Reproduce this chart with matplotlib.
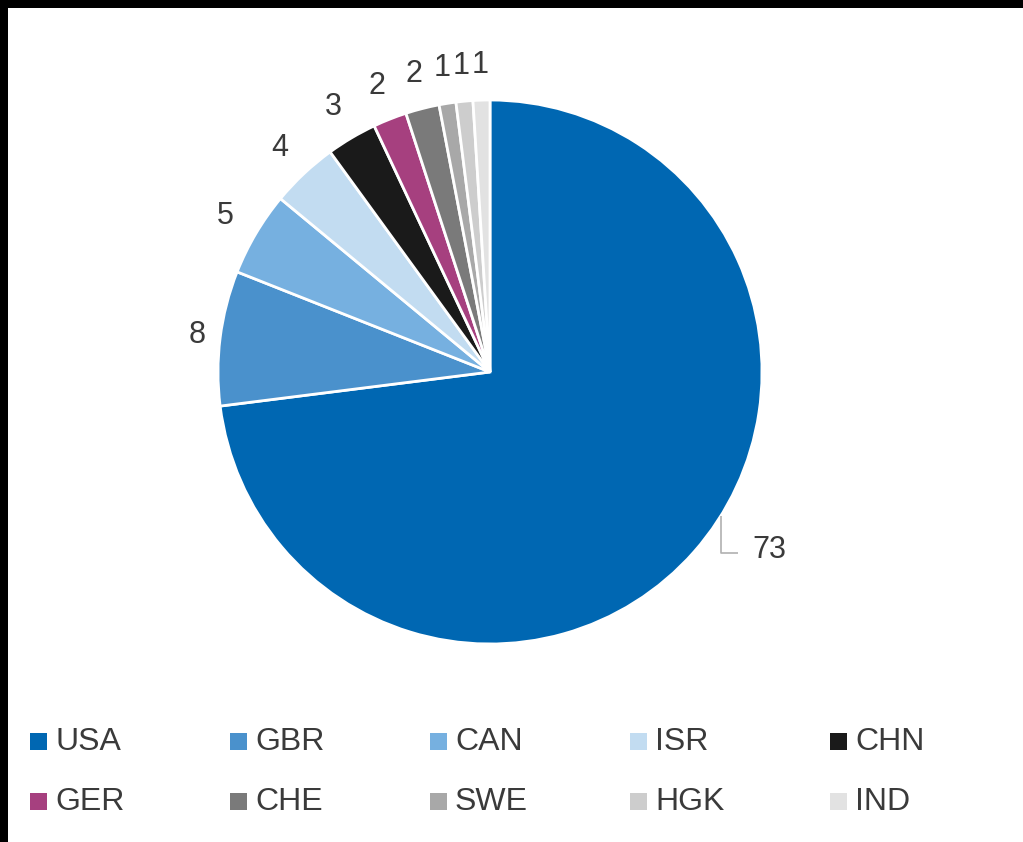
import matplotlib
matplotlib.use("Agg")
import matplotlib.pyplot as plt
from matplotlib.patches import Rectangle
import numpy as np

countries = ["USA", "GBR", "CAN", "ISR", "CHN", "GER", "CHE", "SWE", "HGK", "IND"]
values = [73, 8, 5, 4, 3, 2, 2, 1, 1, 1]
colors = ["#0067B2", "#4A91CC", "#76B0E0", "#C2DCF1", "#1A1A1A",
          "#A6407F", "#7A7A7A", "#A8A8A8", "#CDCDCD", "#E2E2E2"]

plt.rcParams['font.family'] = ['Liberation Sans', 'DejaVu Sans']
W, H = 1023, 842
fig = plt.figure(figsize=(W / 100, H / 100), dpi=100)
fig.patch.set_facecolor("black")
bg = Rectangle((8 / W, 0), 1 - 8 / W, 1 - 8 / H, transform=fig.transFigure,
               facecolor="white", edgecolor="none", zorder=-5)
fig.patches.append(bg)

ax = fig.add_axes([0, 0, 1, 1])
ax.patch.set_alpha(0)
cx, cy, R = 490, 372, 272
labels = [""] + [str(v) for v in values[1:]]
wedges, texts = ax.pie(values, colors=colors, startangle=90, counterclock=False,
                       labels=labels, labeldistance=1.13,
                       wedgeprops=dict(edgecolor="white", linewidth=2),
                       textprops=dict(fontsize=22, color="#3a3a3a"))
for t in texts:
    t.set_ha("center")
    t.set_va("center")
# GBR label sits a little closer to the pie
px, py = texts[1].get_position()
texts[1].set_position((px * 1.085 / 1.13, py * 1.085 / 1.13))

ax.set_xlim(-cx / R, (W - cx) / R)
ax.set_ylim(-(H - cy) / R, cy / R)
ax.set_aspect("auto")
ax.axis("off")

# leader line for USA
ang = np.deg2rad(-32)
x0, y0 = np.cos(ang), np.sin(ang)
y1 = -(553 - cy) / R
x2 = (738 - cx) / R
ax.plot([x0, x0, x2], [y0, y1, y1], color="#B0B0B0", lw=1.2, solid_capstyle="butt")
ax.text((752 - cx) / R, y1 + 0.01, str(values[0]), fontsize=22, color="#3a3a3a",
        ha="left", va="center")

# legend
for i, (c, col) in enumerate(zip(countries, colors)):
    r, k = divmod(i, 5)
    xs = 30 + 200 * k
    yc = 741 + 60 * r
    fig.patches.append(Rectangle((xs / W, 1 - (yc + 9) / H), 17 / W, 17 / H,
                                 transform=fig.transFigure, facecolor=col,
                                 edgecolor="none", zorder=2))
    fig.text((xs + 25) / W, 1 - (yc + 1) / H, c, fontsize=23, color="#3a3a3a",
             ha="left", va="center")

fig.savefig("out.png", dpi=100, facecolor=fig.get_facecolor())
